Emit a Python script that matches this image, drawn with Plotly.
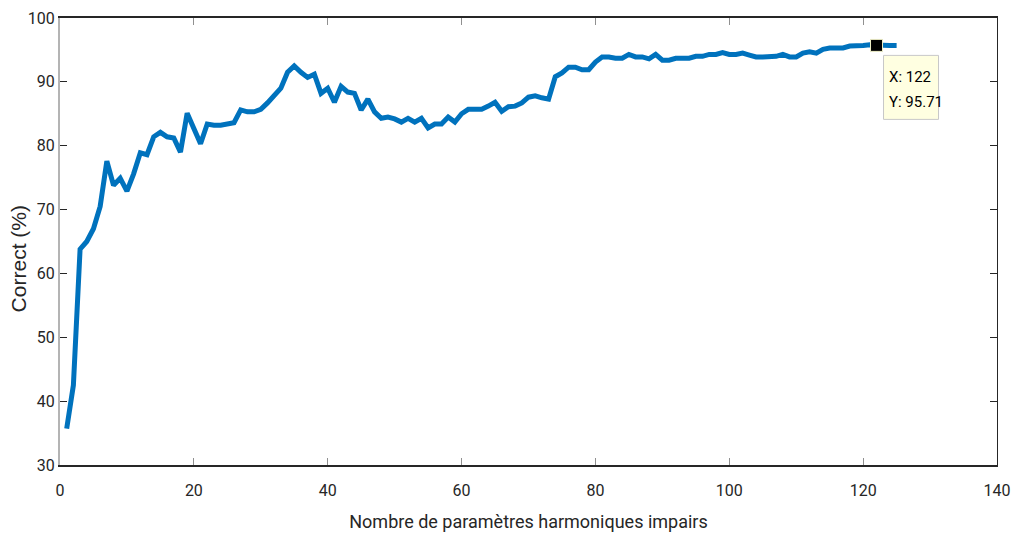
import plotly.graph_objects as go

# Recognition rate versus number of odd harmonic parameters
n_params = list(range(1, 126))
correct = [
    35.7, 42.5, 63.8, 65.0, 67.0, 70.5, 77.6, 73.8, 74.9, 72.9,
    75.6, 78.9, 78.6, 81.4, 82.1, 81.4, 81.2, 79.0, 85.1, 82.5,
    80.3, 83.4, 83.2, 83.2, 83.4, 83.6, 85.6, 85.3, 85.3, 85.7,
    86.7, 87.9, 89.0, 91.5, 92.5, 91.5, 90.7, 91.2, 88.2, 89.0,
    86.8, 89.3, 88.4, 88.2, 85.6, 87.3, 85.3, 84.3, 84.5, 84.2,
    83.7, 84.3, 83.7, 84.3, 82.8, 83.4, 83.4, 84.5, 83.7, 85.0,
    85.7, 85.7, 85.7, 86.2, 86.8, 85.4, 86.1, 86.2, 86.7, 87.6,
    87.8, 87.5, 87.3, 90.8, 91.4, 92.3, 92.3, 91.9, 91.9, 93.1,
    93.9, 93.9, 93.7, 93.7, 94.3, 93.9, 93.9, 93.6, 94.3, 93.4,
    93.4, 93.7, 93.7, 93.7, 94.0, 94.0, 94.3, 94.3, 94.6, 94.3,
    94.3, 94.5, 94.2, 93.9, 93.9, 93.9, 94.0, 94.3, 93.9, 93.9,
    94.5, 94.7, 94.5, 95.1, 95.3, 95.3, 95.3, 95.6, 95.6, 95.7,
    95.8, 95.71, 95.71, 95.71, 95.71,
]
x_ticks = [0, 20, 40, 60, 80, 100, 120, 140]
y_ticks = [30, 40, 50, 60, 70, 80, 90, 100]

# Data tip
tip_x = 122
tip_y = correct[n_params.index(tip_x)]

narrow = "Roboto, Liberation Sans, sans-serif"
wide = "Liberation Sans, Arial, sans-serif"
blue = "#0072BD"

fig = go.Figure()
fig.add_trace(go.Scatter(
    x=n_params, y=correct, mode="lines",
    line=dict(color=blue, width=5),
    hoverinfo="skip", showlegend=False,
))
fig.add_trace(go.Scatter(
    x=[tip_x], y=[tip_y], mode="markers",
    marker=dict(symbol="square", size=12, color="black",
                line=dict(color="#f0f0c8", width=1)),
    hoverinfo="skip", showlegend=False,
))
# invisible trace to carry the right-hand axis
fig.add_trace(go.Scatter(x=[None], y=[None], yaxis="y2", showlegend=False))

# tooltip box
fig.add_shape(
    type="rect", xref="x", yref="y",
    xsizemode="pixel", ysizemode="pixel",
    xanchor=tip_x, yanchor=tip_y,
    x0=7, x1=62, y0=-10, y1=-74,
    fillcolor="#FFFFE1", line=dict(color="#c8c8c8", width=1),
    layer="above",
)
fig.add_annotation(
    x=tip_x, y=tip_y, xref="x", yref="y", showarrow=False,
    text=f"X: {tip_x}", xanchor="left", yanchor="middle",
    xshift=10, yshift=-32,
    font=dict(family=narrow, size=15, color="black"),
)
fig.add_annotation(
    x=tip_x, y=tip_y, xref="x", yref="y", showarrow=False,
    text=f"Y: {tip_y:.2f}", xanchor="left", yanchor="middle",
    xshift=10, yshift=-57,
    font=dict(family=narrow, size=15, color="black"),
)

# y-axis label
fig.add_annotation(
    x=0, y=0.46, xref="paper", yref="paper", showarrow=False,
    text="Correct (%)", textangle=-90,
    xanchor="center", yanchor="middle", xshift=-42,
    font=dict(family=wide, size=21, color="#262626"),
)

fig.update_layout(
    width=1011, height=535,
    margin=dict(l=60, r=14, t=18, b=70, autoexpand=False),
    paper_bgcolor="white", plot_bgcolor="white",
    xaxis=dict(
        range=[0, 140], tickvals=x_ticks, ticktext=[str(v) for v in x_ticks],
        showgrid=False, zeroline=False, automargin=False,
        showline=True, linecolor="#262626", linewidth=2, mirror="ticks",
        ticks="inside", ticklen=7, tickwidth=1, tickcolor="#909090",
        ticklabelstandoff=10,
        tickfont=dict(family=narrow, size=16, color="#262626"),
        title=dict(text="Nombre de paramètres harmoniques impairs",
                   font=dict(family=narrow, size=18, color="#262626"),
                   standoff=16),
    ),
    yaxis=dict(
        range=[30, 100], tickvals=y_ticks, ticktext=[str(v) for v in y_ticks],
        showgrid=False, zeroline=False, automargin=False,
        showline=True, linecolor="#b4b4b4", linewidth=2, mirror=False,
        ticks="inside", ticklen=7, tickwidth=1, tickcolor="#262626",
        tickfont=dict(family=narrow, size=16, color="#262626"),
    ),
    yaxis2=dict(
        overlaying="y", side="right", range=[30, 100], tickvals=y_ticks,
        showticklabels=False, showgrid=False, zeroline=False, automargin=False,
        showline=True, linecolor="#262626", linewidth=1,
        ticks="inside", ticklen=7, tickwidth=1, tickcolor="#262626",
    ),
)

fig.write_html("out.html")
